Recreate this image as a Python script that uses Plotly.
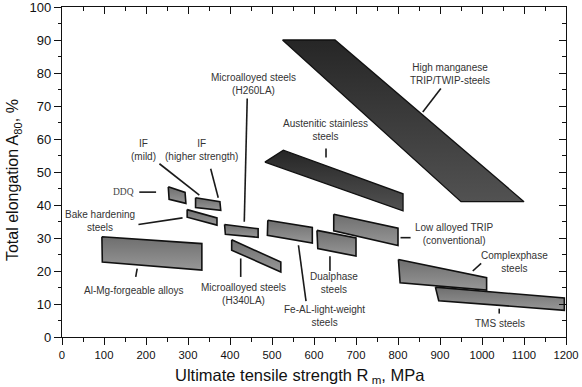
import plotly.graph_objects as go

# ---- region outlines (Rm in MPa, A80 in %) ----
high_mn_x = [525, 650, 1100, 950, 525]
high_mn_y = [90, 90, 41, 41, 90]
austenitic_x = [483, 527, 812, 812, 483]
austenitic_y = [53, 56.6, 43.4, 38.2, 53]
ddq_x = [253, 293, 295, 255, 253]
ddq_y = [45.5, 43.8, 40.5, 41.7, 45.5]
if_x = [318, 376, 378, 318, 318]
if_y = [42.2, 41.0, 38.4, 39.2, 42.2]
bake_x = [298, 369, 369, 298, 298]
bake_y = [38.6, 36.1, 33.9, 36.3, 38.6]
almg_x = [95, 333, 333, 96, 95]
almg_y = [30.4, 28.3, 20.3, 22.7, 30.4]
h260_x = [387, 467, 467, 389, 387]
h260_y = [34.1, 32.8, 30.2, 31.1, 34.1]
h340_x = [404, 521, 521, 404, 404]
h340_y = [29.5, 22.7, 19.7, 26.3, 29.5]
feal_x = [490, 596, 596, 489, 490]
feal_y = [35.4, 33.2, 28.5, 30.8, 35.4]
dual_x = [607, 700, 700, 609, 607]
dual_y = [32.3, 30.0, 24.5, 26.8, 32.3]
trip_x = [647, 800, 800, 647, 647]
trip_y = [37.2, 33.0, 27.7, 32.2, 37.2]
complex_x = [801, 1011, 1011, 805, 801]
complex_y = [23.5, 18.0, 14.2, 16.4, 23.5]
tms_x = [889, 1196, 1196, 897, 889]
tms_y = [15.1, 11.8, 8.1, 11.0, 15.1]

dark_regions = [(high_mn_x, high_mn_y), (austenitic_x, austenitic_y)]
grey_regions = [(ddq_x, ddq_y), (if_x, if_y), (bake_x, bake_y), (almg_x, almg_y),
                (h260_x, h260_y), (h340_x, h340_y), (feal_x, feal_y), (dual_x, dual_y),
                (trip_x, trip_y), (complex_x, complex_y), (tms_x, tms_y)]

# ---- labels (text, x, y) ----
label_text = ["Microalloyed steels<br>(H260LA)", "IF<br>(mild)", "IF<br>(higher strength)",
              "Bake hardening<br>steels", "Al-Mg-forgeable alloys", "Microalloyed steels<br>(H340LA)",
              "Fe-AL-light-weight<br>steels", "Dualphase<br>steels", "Low alloyed TRIP<br>(conventional)",
              "Complexphase<br>steels", "TMS steels", "High manganese<br>TRIP/TWIP-steels",
              "Austenitic stainless<br>steels"]
label_x = [457, 194, 333, 90, 171, 433, 626, 648, 934, 1077, 1044, 924, 627]
label_y = [76.6, 56.8, 56.8, 35.1, 14.1, 12.9, 6.4, 16.4, 31.3, 22.8, 4.2, 79.7, 62.8]
ddq_label = ("DDQ", 147, 43.8)

# ---- leader lines (x0, x1, y0, y1) ----
leader_x0 = [441, 232, 354, 184, 182, 179, 425.5, 563, 638, 806, 978, 1041, 859, 628.6]
leader_x1 = [434, 327, 372, 224, 287, 175.5, 425.5, 581, 638, 830, 998, 1041, 902, 628.6]
leader_y0 = [72.3, 52.5, 51.0, 43.9, 34.1, 20.7, 23.8, 27.8, 24.5, 30.1, 20.0, 8.6, 68.2, 57.1]
leader_y1 = [34.9, 43.0, 42.2, 43.9, 36.1, 18.2, 18.2, 10.9, 20.0, 30.1, 22.3, 7.1, 75.3, 54.4]

x_ticks = list(range(0, 1201, 100))
y_ticks = list(range(0, 101, 10))

fig = go.Figure()

for xs, ys in dark_regions:
    fig.add_trace(go.Scatter(x=xs, y=ys, mode="lines", fill="toself",
                             fillgradient=dict(type="vertical",
                                               colorscale=[[0, "#525252"], [1, "#262626"]]),
                             line=dict(color="#111111", width=1.3),
                             showlegend=False, hoverinfo="skip"))
for xs, ys in grey_regions:
    fig.add_trace(go.Scatter(x=xs, y=ys, mode="lines", fill="toself",
                             fillgradient=dict(type="vertical",
                                               colorscale=[[0, "#979797"], [1, "#6e6e6e"]]),
                             line=dict(color="#111111", width=1.6),
                             showlegend=False, hoverinfo="skip"))

for x0, x1, y0, y1 in zip(leader_x0, leader_x1, leader_y0, leader_y1):
    fig.add_trace(go.Scatter(x=[x0, x1], y=[y0, y1], mode="lines",
                             line=dict(color="#1a1a1a", width=1.6),
                             showlegend=False, hoverinfo="skip"))

# dummy trace for the inside-tick mirror axes
fig.add_trace(go.Scatter(x=[], y=[], xaxis="x2", yaxis="y2", showlegend=False, hoverinfo="skip"))

for t, x, y in zip(label_text, label_x, label_y):
    fig.add_annotation(x=x, y=y, text=t, showarrow=False, xanchor="center", yanchor="middle",
                       font=dict(family="Liberation Sans, Arial", size=10, color="#333333"))
fig.add_annotation(x=ddq_label[1], y=ddq_label[2], text=ddq_label[0], showarrow=False,
                   font=dict(family="Liberation Serif, Times New Roman", size=9.5, color="#444444"))

# axis titles
fig.add_annotation(xref="paper", yref="paper", x=0.473, y=-0.118,
                   text="Ultimate tensile strength R<sub> m</sub>, MPa", showarrow=False,
                   xanchor="center", yanchor="middle",
                   font=dict(family="Liberation Sans, Arial", size=16.5, color="#111111"))
fig.add_annotation(xref="paper", yref="paper", x=-0.095, y=0.476,
                   text="Total elongation A<sub>80</sub>, %", showarrow=False, textangle=-90,
                   xanchor="center", yanchor="middle",
                   font=dict(family="Liberation Sans, Arial", size=16, color="#111111"))

axis_font = dict(family="Liberation Sans, Arial", color="#111111")
fig.update_layout(
    width=582, height=387,
    margin=dict(l=62, r=16, t=7, b=50, autoexpand=False),
    plot_bgcolor="white", paper_bgcolor="white",
    xaxis=dict(range=[0, 1200], tickvals=x_ticks, ticktext=[str(v) for v in x_ticks],
               automargin=False, ticklabeloverflow="allow",
               showgrid=False, zeroline=False, showline=True, linecolor="#111111", linewidth=1.3,
               mirror=True, ticks="outside", ticklen=7, tickwidth=1.3, tickcolor="#111111",
               minor=dict(ticks="outside", ticklen=4, dtick=50, tickcolor="#111111", tickwidth=1.2),
               tickfont=dict(size=11.3, **axis_font)),
    yaxis=dict(range=[0, 100], tickvals=y_ticks, ticktext=[str(v) for v in y_ticks],
               automargin=False, ticklabeloverflow="allow",
               showgrid=False, zeroline=False, showline=True, linecolor="#111111", linewidth=1.3,
               mirror=True, ticks="outside", ticklen=7, tickwidth=1.3, tickcolor="#111111",
               minor=dict(ticks="outside", ticklen=3, dtick=5, tickcolor="#111111", tickwidth=1.2),
               tickfont=dict(size=13, **axis_font)),
    xaxis2=dict(range=[0, 1200], overlaying="x", side="top", anchor="y", tickvals=x_ticks,
                automargin=False,
                showticklabels=False, showgrid=False, zeroline=False, showline=False,
                ticks="inside", ticklen=7, tickwidth=1.3, tickcolor="#111111",
                minor=dict(ticks="inside", ticklen=4, dtick=50, tickcolor="#111111", tickwidth=1.2)),
    yaxis2=dict(range=[0, 100], overlaying="y", side="right", anchor="x", tickvals=y_ticks,
                automargin=False,
                showticklabels=False, showgrid=False, zeroline=False, showline=False,
                ticks="inside", ticklen=7, tickwidth=1.3, tickcolor="#111111",
                minor=dict(ticks="inside", ticklen=4, dtick=5, tickcolor="#111111", tickwidth=1.2)),
)

fig.write_html("out.html", config={"displayModeBar": False},
               post_script="document.body.style.margin='0px';")
